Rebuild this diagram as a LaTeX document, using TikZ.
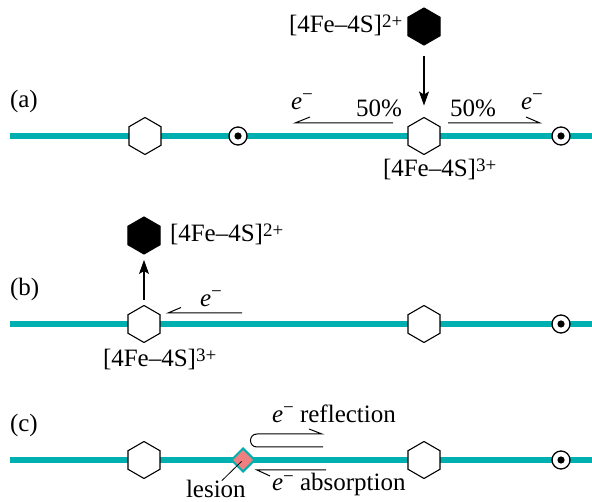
\documentclass[tikz,border=0pt]{standalone}
\usepackage{fontspec}
\setmainfont{Liberation Serif}
\usetikzlibrary{shapes.geometric,arrows.meta}
\definecolor{wirec}{RGB}{0,176,176}
\definecolor{lesionc}{RGB}{240,128,128}
\newcommand\mysup[1]{\raisebox{0.2em}{\fontsize{19}{19}\selectfont #1}}
\newcommand\fes[1]{[4Fe--4S]\mysup{#1}}
\newcommand\elec{\textit{e}\raisebox{0.36em}{\fontsize{19}{19}\selectfont −}}
\tikzset{
  wire/.style={draw=wirec,line width=5.5pt},
  hexw/.style={regular polygon,regular polygon sides=6,shape border rotate=30,
    minimum size=37pt,inner sep=0pt,outer sep=0pt,draw=black,fill=white,line width=1.1pt},
  hexb/.style={hexw,fill=black},
  bull/.style={circle,draw=black,fill=white,line width=1.3pt,minimum size=18pt,inner sep=0pt,
    path picture={\fill[black] (path picture bounding box.center) circle (3.6pt);}},
  lesionbox/.style={diamond,aspect=1,draw=wirec,fill=lesionc,line width=2pt,
    minimum width=24pt,minimum height=24pt,inner sep=0pt},
  lbl/.style={inner sep=0pt,outer sep=0pt,anchor=base west,font=\fontsize{25}{29}\selectfont},
  arr/.style={line width=1.1pt,-{Stealth[length=14pt,width=10pt,inset=3pt]}},
  half/.style={line width=1pt,line join=miter}
}
\begin{document}
\begin{tikzpicture}[x=1pt,y=-1pt]
\useasboundingbox (0,0) rectangle (592,502);
% ---------------- (a)
\coordinate (aL) at (10,136);
\coordinate (aR) at (592,136);
\draw[wire] (aL) -- (aR);
\node[lbl] (la) at (10,108) {(a)};
\node[hexw] (a1) at (145,136) {};
\node[bull] (a2) at (238,136) {};
\node[hexw] (a3) at (424,136) {};
\node[bull] (a4) at (561,136) {};
\node[hexb] (a0) at (424,26.5) {};
\node[lbl] (a0t) at (289,33) {\fes{2+}};
\node[lbl] (a3t) at (383,177) {\fes{3+}};
\draw[arr,shorten <=11pt,shorten >=12pt] (a0) -- (a3);
\coordinate (alA) at (393,123);
\coordinate (alB) at (295,123);
\coordinate (alC) at (310,117);
\draw[half] (alA) -- (alB) -- (alC);
\coordinate (arA) at (448,123);
\coordinate (arB) at (540,123);
\coordinate (arC) at (526,117);
\draw[half] (arA) -- (arB) -- (arC);
\node[lbl] (ae1) at (291,110) {\elec};
\node[lbl] (ap1) at (356,117) {50\%};
\node[lbl] (ap2) at (450,117) {50\%};
\node[lbl] (ae2) at (521,110) {\elec};
% ---------------- (b)
\coordinate (bL) at (10,324);
\coordinate (bR) at (592,324);
\draw[wire] (bL) -- (bR);
\node[lbl] (lb) at (10,296) {(b)};
\node[hexw] (b1) at (144,324) {};
\node[hexw] (b2) at (424,324) {};
\node[bull] (b3) at (561,324) {};
\node[hexb] (b0) at (144,235.5) {};
\node[lbl] (b0t) at (170,242) {\fes{2+}};
\node[lbl] (b1t) at (103,367) {\fes{3+}};
\draw[arr,shorten <=5.5pt,shorten >=6pt] (b1) -- (b0);
\coordinate (beA) at (242,313);
\coordinate (beB) at (168,313);
\coordinate (beC) at (181,307.5);
\draw[half] (beA) -- (beB) -- (beC);
\node[lbl] (be) at (200,307) {\elec};
% ---------------- (c)
\coordinate (cL) at (10,460);
\coordinate (cR) at (592,460);
\draw[wire] (cL) -- (cR);
\node[lbl] (lc) at (10,432) {(c)};
\node[hexw] (c1) at (144,460) {};
\node[lesionbox] (les) at (243,460) {};
\node[hexw] (c3) at (424,460) {};
\node[bull] (c4) at (561,460) {};
\coordinate (rA) at (323,447);
\coordinate (rB) at (257,447);
\coordinate (rC) at (257,434);
\coordinate (rD) at (322,434);
\coordinate (rE) at (309,429);
\draw[half] (rA) -- (rB) .. controls (248.3,447) and (248.3,434) .. (rC) -- (rD) -- (rE);
\coordinate (abA) at (326,470);
\coordinate (abB) at (257,470);
\coordinate (abC) at (270,476);
\draw[half] (abA) -- (abB) -- (abC);
\node[lbl] (refl) at (272,423) {\elec\ reflection};
\node[lbl] (abso) at (272,491) {\elec\ absorption};
\node[lbl,text depth=0pt] (lest) at (186,497) {lesion};
\draw[line width=0.8pt,shorten >=2pt] ([xshift=6pt,yshift=-1pt]lest.north) -- (les.center);
\end{tikzpicture}
\end{document}
